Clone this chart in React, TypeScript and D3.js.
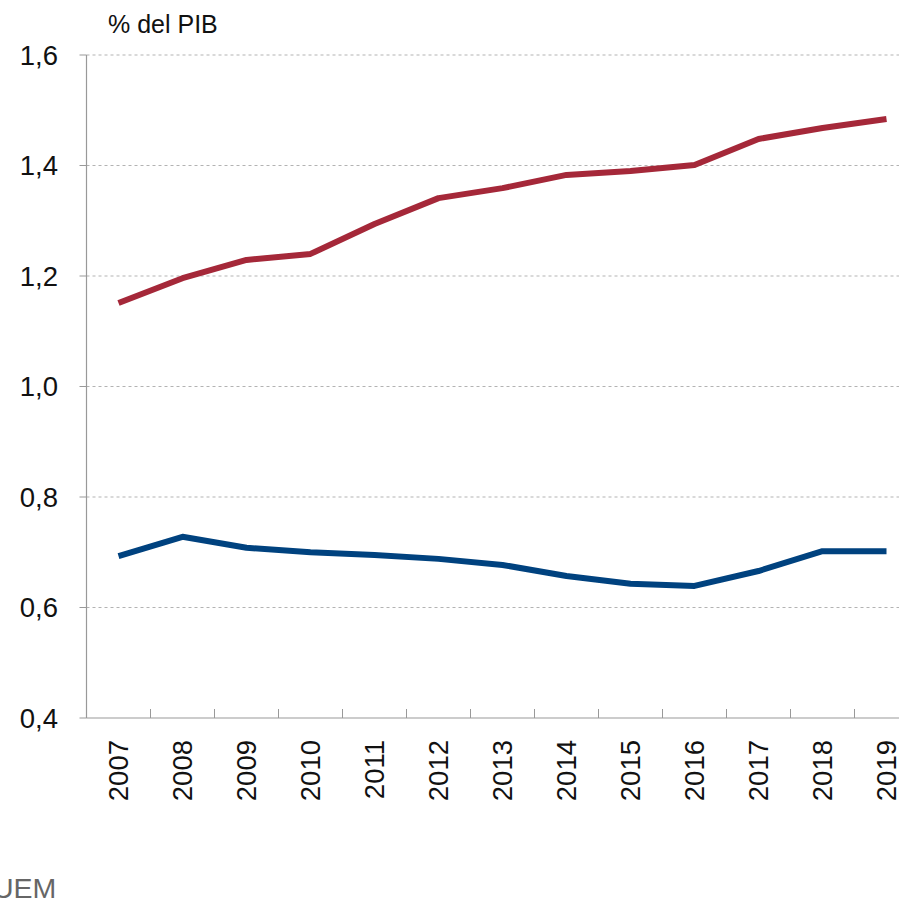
import React from "react";
import * as d3 from "d3";

const years = ["2007","2008","2009","2010","2011","2012","2013","2014","2015","2016","2017","2018","2019"];
const seriesRed = [1.151,1.196,1.229,1.240,1.294,1.341,1.359,1.383,1.390,1.401,1.448,1.468,1.484];
const seriesBlue = [0.693,0.728,0.708,0.700,0.695,0.688,0.677,0.657,0.643,0.639,0.666,0.702,0.702];
const yTicks = [0.4,0.6,0.8,1.0,1.2,1.4,1.6];
const unitLabel = "% del PIB";
const legendLabel = "UEM";

export default function App() {
  const W = 899, H = 904;
  const left = 86.5, top = 55, bottom = 718;
  const bandW = 64;
  const x = d3.scaleBand<string>().domain(years).range([left, left + bandW * years.length]).padding(0);
  const y = d3.scaleLinear().domain([0.4, 1.6]).range([bottom, top]);
  const line = d3.line<number>()
    .x((_, i) => (x(years[i]) as number) + x.bandwidth() / 2)
    .y(d => y(d));
  const fmt = (v: number) => v.toFixed(1).replace(".", ",");
  const font = "'Liberation Sans', Arial, Helvetica, sans-serif";
  return (
    <svg width={W} height={H} style={{ position: "absolute", left: 0, top: 0, background: "#fff" }} fontFamily={font}>
      <rect x={0} y={0} width={W} height={H} fill="#fff" />
      {yTicks.slice(1).map(t => (
        <line key={"g" + t} x1={left} x2={W} y1={y(t)} y2={y(t)} stroke="#b3b3b3" strokeWidth={1} strokeDasharray="3,3" />
      ))}
      {yTicks.map(t => (
        <g key={"t" + t}>
          <line x1={left - 7} x2={left} y1={y(t)} y2={y(t)} stroke="#999" strokeWidth={1} />
          <text x={58} y={y(t)} textAnchor="end" dominantBaseline="central" fontSize={27.5} fill="#111">{fmt(t)}</text>
        </g>
      ))}
      <line x1={left} x2={left} y1={top} y2={bottom} stroke="#999" strokeWidth={1.2} />
      <line x1={left} x2={W} y1={bottom} y2={bottom} stroke="#999" strokeWidth={1.2} />
      {years.slice(1).map(yr => (
        <line key={"xt" + yr} x1={x(yr) as number} x2={x(yr) as number} y1={bottom} y2={bottom - 9} stroke="#999" strokeWidth={1} />
      ))}
      {years.map(yr => {
        const cx = (x(yr) as number) + x.bandwidth() / 2;
        return (
          <text key={"xl" + yr} transform={`translate(${cx},740) rotate(-90)`} textAnchor="end" dominantBaseline="central" fontSize={27.5} fill="#111">{yr}</text>
        );
      })}
      <path d={line(seriesRed) || ""} fill="none" stroke="#A52839" strokeWidth={6} strokeLinejoin="round" />
      <path d={line(seriesBlue) || ""} fill="none" stroke="#00427F" strokeWidth={6} strokeLinejoin="round" />
      <text x={108} y={33} fontSize={25} fill="#111">{unitLabel}</text>
      <text x={-7} y={898} fontSize={28.5} fill="#666">{legendLabel}</text>
    </svg>
  );
}
